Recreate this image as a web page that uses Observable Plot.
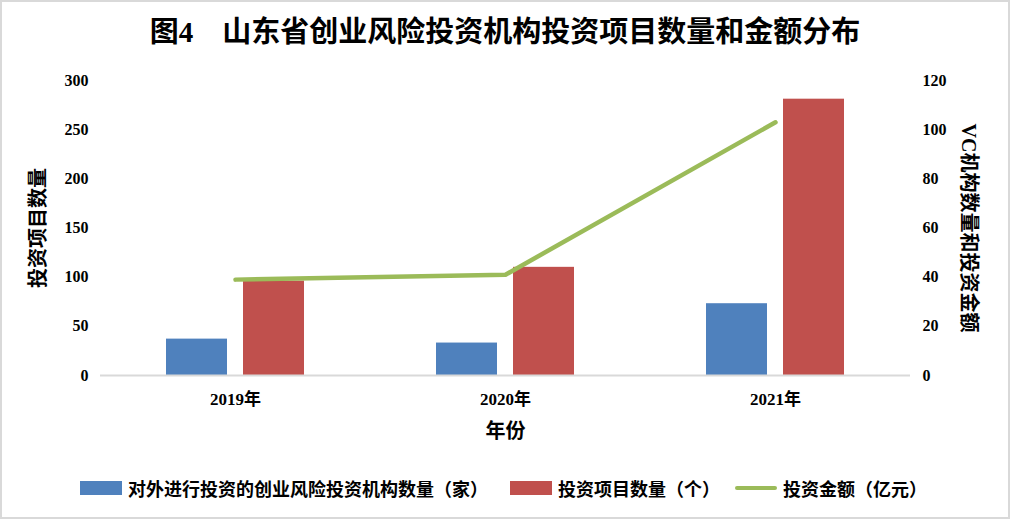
<!DOCTYPE html>
<html>
<head>
<meta charset="utf-8">
<script src="https://cdn.jsdelivr.net/npm/d3@7"></script>
<script src="https://cdn.jsdelivr.net/npm/@observablehq/plot@0.6"></script>
<style>
  html, body { margin: 0; padding: 0; background: #fff; }
  body { width: 1010px; height: 519px; position: relative; overflow: hidden;
         font-family: "Liberation Serif", "Noto Sans CJK SC", serif; }
  #frame { position: absolute; left: 0; top: 0; width: 1010px; height: 519px; box-sizing: border-box;
           border: 2px solid #d9d9d9; pointer-events: none; }
  #title { position: absolute; left: 0; top: 14px; width: 1010px; text-align: center;
           font-size: 29px; font-weight: bold; line-height: 36px; color: #000; }
  #chart { position: absolute; left: 0; top: 60px; }
  .leg { position: absolute; top: 476px; height: 24px; display: flex; align-items: center;
         font-size: 18px; font-weight: bold; color: #000; white-space: nowrap; }
  .sw { display: inline-block; width: 42px; height: 14px; margin-right: 6px; }
  .ln { display: inline-block; width: 42px; height: 4px; margin-right: 6px; border-radius: 2px; }
</style>
</head>
<body>
<div id="title">图4　山东省创业风险投资机构投资项目数量和金额分布</div>
<div id="chart"></div>
<div class="leg" style="left:80px"><span class="sw" style="background:#4f81bd"></span>对外进行投资的创业风险投资机构数量（家）</div>
<div class="leg" style="left:510px"><span class="sw" style="background:#c0504d"></span>投资项目数量（个）</div>
<div class="leg" style="left:735px"><span class="ln" style="background:#9bbb59"></span>投资金额（亿元）</div>
<div id="frame"></div>
<script>
const years = ["2019年", "2020年", "2021年"];
const institutions = [37, 33, 73];     // 对外进行投资的创业风险投资机构数量（家）
const projects = [96, 110, 281];       // 投资项目数量（个）
const amounts = [39, 41, 103];         // 投资金额（亿元）
const leftTicks = [0, 50, 100, 150, 200, 250, 300];
const rightTicks = [0, 20, 40, 60, 80, 100, 120];
const ratio = 300 / 120;

const bars = years.flatMap((y, i) => [
  {year: y, series: "inst", value: institutions[i]},
  {year: y, series: "proj", value: projects[i]}
]);
const line = years.map((y, i) => ({year: y, value: amounts[i]}));

const band = 270, barW = 61, off = 38.5;
const inset = (band - barW) / 2;

const chart = Plot.plot({
  width: 1010,
  height: 390,
  marginLeft: 100,
  marginRight: 100,
  marginTop: 20,
  marginBottom: 75,
  style: {fontFamily: '"Liberation Serif", "Noto Sans CJK SC", serif', fontSize: "16px", fontWeight: "bold", color: "#000", background: "transparent"},
  x: {type: "band", domain: years, padding: 0, label: null},
  y: {domain: [0, 300], label: null},
  marks: [
    Plot.barY(bars.filter(d => d.series === "inst"), {x: "year", y: "value", fill: "#4f81bd", insetLeft: inset, insetRight: inset, dx: -off}),
    Plot.barY(bars.filter(d => d.series === "proj"), {x: "year", y: "value", fill: "#c0504d", insetLeft: inset, insetRight: inset, dx: off}),
    Plot.ruleY([0], {stroke: "#d9d9d9", strokeWidth: 2}),
    Plot.line(line, {x: "year", y: d => d.value * ratio, stroke: "#9bbb59", strokeWidth: 4.5, strokeLinecap: "round"}),
    Plot.axisY(leftTicks, {tickSize: 0, tickPadding: 12, fontSize: 16, fontWeight: "bold", label: null}),
    Plot.text(rightTicks, {y: d => d * ratio, text: d => String(d), frameAnchor: "right", dx: 12, textAnchor: "start", fontSize: 16, fontWeight: "bold"}),
    Plot.axisX({tickSize: 0, tickPadding: 17, fontSize: 17, fontWeight: "bold", label: null}),
    Plot.text(["年份"], {frameAnchor: "bottom", dy: 56, lineAnchor: "middle", textAnchor: "middle", fontSize: 20, fontWeight: "bold"}),
    Plot.text(["投资项目数量"], {frameAnchor: "left", dx: -62, rotate: -90, textAnchor: "middle", lineAnchor: "middle", fontSize: 20, fontWeight: "bold"}),
    Plot.text(["VC机构数量和投资金额"], {frameAnchor: "right", dx: 58, rotate: 90, textAnchor: "middle", lineAnchor: "middle", fontSize: 20, fontWeight: "bold"})
  ]
});
document.getElementById("chart").appendChild(chart);
</script>
</body>
</html>
